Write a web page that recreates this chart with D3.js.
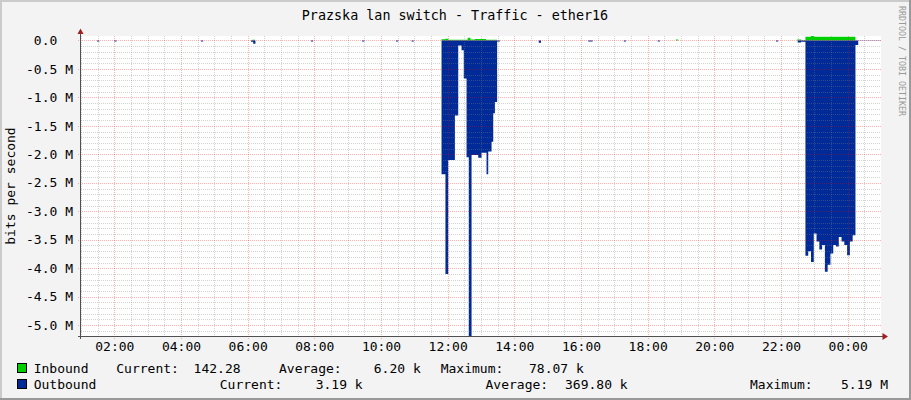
<!DOCTYPE html>
<html>
<head>
<meta charset="utf-8">
<script src="https://cdn.jsdelivr.net/npm/d3@7"></script>
<style>
  body { margin: 0; background: #f3f3f3; }
  svg text { font-family: "DejaVu Sans Mono", monospace; }
</style>
</head>
<body>
<svg id="chart" width="911" height="400"></svg>
<script>
'use strict';

var title = 'Prazska lan switch - Traffic - ether16';
var yAxisLabel = 'bits per second';
var watermark = 'RRDTOOL / TOBI OETIKER';

// graph covers 24 hours starting here
var startTime = '01:00';
var xTickHours = [2, 4, 6, 8, 10, 12, 14, 16, 18, 20, 22, 24];
var yTickValues = [0, -0.5, -1, -1.5, -2, -2.5, -3, -3.5, -4, -4.5, -5];

// values in Mbit/s, each one holds until the next time (5 min rrd steps)
var inTimes = ['06:08', '06:13', '11:49', '11:56', '12:01', '12:36', '12:41', '12:49', '13:09', '13:29',
  '18:51', '18:55', '22:29', '22:36', '22:44', '22:54', '22:59', '00:14'];
var inValues = [0.012, 0, 0.020, 0.030, 0.012, 0.047, 0.015, 0.025, 0.012, 0,
  0.015, 0, 0.015, 0.005, 0.065, 0.07807, 0.065, 0.00014];

var outTimes = ['01:29', '01:33', '02:00', '02:04', '04:36', '04:40',
  '06:06', '06:10', '06:14', '07:54', '07:58', '09:26', '09:30',
  '10:27', '10:31', '10:55', '10:59',
  '11:49', '11:56', '12:01', '12:13', '12:19', '12:25', '12:29', '12:34', '12:38', '12:43',
  '12:55', '13:01', '13:10', '13:13', '13:19', '13:22', '13:25', '13:29', '13:34',
  '14:44', '14:48', '16:13', '16:21', '17:17', '17:21', '18:18', '18:22', '21:51', '21:55',
  '22:30', '22:36',
  '22:44', '22:49', '22:54', '22:59', '23:04', '23:09', '23:14', '23:19', '23:24',
  '23:29', '23:34', '23:39', '23:44', '23:49', '23:54', '23:59', '00:04', '00:09',
  '00:14', '00:19'];
var outValues = [0.02, 0, 0.02, 0, 0.018, 0,
  0.025, 0.058, 0, 0.02, 0, 0.02, 0,
  0.02, 0, 0.02, 0,
  2.35, 4.10, 2.10, 1.32, 0.09, 0.17, 0.67, 2.05, 5.19, 2.01,
  2.06, 1.97, 2.35, 1.95, 1.78, 1.28, 1.08, 0.02, 0,
  0.040, 0, 0.02, 0, 0.02, 0, 0.02, 0, 0.02, 0,
  0.035, 0.022,
  3.78, 3.70, 3.89, 3.39, 3.53, 3.67, 3.59, 4.06, 3.94,
  3.74, 3.59, 3.62, 3.45, 3.53, 3.59, 3.77, 3.53, 3.42,
  0.08, 0.0032];

var seriesNames = ['Inbound', 'Outbound'];
var seriesColors = ['#00cf00', '#002a97'];
var statLabels = ['Current:', 'Average:', 'Maximum:'];
var inStats = ['142.28', '6.20 k', '78.07 k'];
var outStats = ['3.19 k', '369.80 k', '5.19 M'];

function toHours(s) {
  var p = s.split(':');
  return +p[0] + p[1] / 60;
}
var t0 = toHours(startTime);
function plotHours(s) {
  var h = toHours(s);
  return h < t0 ? h + 24 : h;
}
function steps(times, values) {
  var pts = [{t: t0, v: 0}];
  times.forEach(function(s, i) { pts.push({t: plotHours(s), v: values[i]}); });
  pts.push({t: t0 + 24, v: values[values.length - 1]});
  return pts;
}

var svg = d3.select('#chart');
var plotLeft = 81, plotTop = 36, plotW = 800, plotH = 300;
var plotBottom = plotTop + plotH;

// background + shaded border
svg.append('rect').attr('width', 911).attr('height', 400).attr('fill', '#f3f3f3');
svg.append('rect').attr('width', 911).attr('height', 2).attr('fill', '#cbcbcb');
svg.append('rect').attr('width', 2).attr('height', 400).attr('fill', '#cbcbcb');
svg.append('rect').attr('y', 398).attr('width', 911).attr('height', 2).attr('fill', '#999');
svg.append('rect').attr('x', 909).attr('width', 2).attr('height', 400).attr('fill', '#999');

svg.append('rect').attr('x', plotLeft).attr('y', plotTop).attr('width', plotW).attr('height', plotH)
  .attr('fill', '#fff');

var x = d3.scaleLinear().domain([t0, t0 + 24]).range([plotLeft, plotLeft + plotW]);
var y = d3.scaleLinear()
  .domain([-d3.max(outValues), d3.max(inValues)])
  .range([plotBottom, plotTop]);

svg.append('clipPath').attr('id', 'clip').append('rect')
  .attr('x', plotLeft).attr('y', plotTop).attr('width', plotW).attr('height', plotH);

function area(sign) {
  return d3.area()
    .x(function(d) { return x(d.t); })
    .y0(y(0))
    .y1(function(d) { return y(sign * d.v); })
    .curve(d3.curveStepAfter);
}
var marks = svg.append('g').attr('clip-path', 'url(#clip)');
marks.append('path').datum(steps(inTimes, inValues)).attr('d', area(1))
  .attr('fill', seriesColors[0]);
marks.append('path').datum(steps(outTimes, outValues)).attr('d', area(-1))
  .attr('fill', seriesColors[1]);

// grid on top of the data, like rrdtool
var grid = svg.append('g').attr('stroke-dasharray', '1,1').attr('shape-rendering', 'crispEdges');
var minorX = d3.range(Math.ceil(t0 * 2) / 2, t0 + 24, 0.5).filter(function(h) { return h % 2 !== 0; });
grid.selectAll('.mx').data(minorX).enter().append('line')
  .attr('x1', function(h) { return Math.round(x(h)) + 0.5; })
  .attr('x2', function(h) { return Math.round(x(h)) + 0.5; })
  .attr('y1', plotTop).attr('y2', plotBottom)
  .attr('stroke', '#808080').attr('stroke-opacity', 0.35);
var minorY = d3.range(0, y.domain()[0], -0.1).filter(function(v) {
  return Math.round(v * 10) % 5 !== 0;
});
grid.selectAll('.my').data(minorY).enter().append('line')
  .attr('x1', plotLeft).attr('x2', plotLeft + plotW)
  .attr('y1', function(v) { return Math.round(y(v)) + 0.5; })
  .attr('y2', function(v) { return Math.round(y(v)) + 0.5; })
  .attr('stroke', '#808080').attr('stroke-opacity', 0.35);
grid.selectAll('.Mx').data(xTickHours).enter().append('line')
  .attr('x1', function(h) { return Math.round(x(h)) + 0.5; })
  .attr('x2', function(h) { return Math.round(x(h)) + 0.5; })
  .attr('y1', plotTop).attr('y2', plotBottom + 3)
  .attr('stroke', '#ff0000').attr('stroke-opacity', 0.3);
grid.selectAll('.My').data(yTickValues).enter().append('line')
  .attr('x1', plotLeft - 3).attr('x2', plotLeft + plotW)
  .attr('y1', function(v) { return Math.round(y(v)) + 0.5; })
  .attr('y2', function(v) { return Math.round(y(v)) + 0.5; })
  .attr('stroke', '#ff0000').attr('stroke-opacity', 0.3);

// axis lines and arrows
svg.append('line').attr('x1', plotLeft - 0.5).attr('x2', plotLeft - 0.5).attr('y1', 31).attr('y2', plotBottom + 3)
  .attr('stroke', '#505050');
svg.append('line').attr('x1', plotLeft - 3).attr('x2', plotLeft + plotW + 2).attr('y1', plotBottom + 0.5)
  .attr('y2', plotBottom + 0.5).attr('stroke', '#505050');
svg.append('path').attr('d', 'M77.5,34 L83.5,34 L80.5,28.5 Z').attr('fill', '#a02020');
svg.append('path').attr('d', 'M882.5,333 L882.5,340 L888,336.5 Z').attr('fill', '#a02020');

// tick labels
var yAxis = svg.append('g').attr('transform', 'translate(' + plotLeft + ',0)')
  .call(d3.axisLeft(y).tickValues(yTickValues).tickSize(0).tickPadding(8)
    .tickFormat(function(v) { return v === 0 ? '0.0  ' : v.toFixed(1) + ' M'; }));
yAxis.select('.domain').remove();
yAxis.attr('font-family', 'DejaVu Sans Mono').attr('font-size', 13);
yAxis.selectAll('text').attr('fill', '#000').style('white-space', 'pre');

var xAxis = svg.append('g').attr('transform', 'translate(0,' + plotBottom + ')')
  .call(d3.axisBottom(x).tickValues(xTickHours).tickSize(0).tickPadding(6)
    .tickFormat(function(h) { return d3.format('02')(h % 24) + ':00'; }));
xAxis.select('.domain').remove();
xAxis.attr('font-family', 'DejaVu Sans Mono').attr('font-size', 13);
xAxis.selectAll('text').attr('fill', '#000');

// titles
svg.append('text').attr('x', 455).attr('y', 19.5).attr('text-anchor', 'middle')
  .attr('font-size', 13.4).text(title);
svg.append('text').attr('transform', 'translate(15,186) rotate(-90)').attr('text-anchor', 'middle')
  .attr('font-size', 13).text(yAxisLabel);
svg.append('text').attr('transform', 'translate(898.5,61) rotate(90)').attr('text-anchor', 'middle')
  .attr('font-size', 8.3).attr('fill', '#999').text(watermark);

// legend
var legendRows = [
  {base: 373, stats: inStats, xs: [116.3, 193.6, 279, 373.8, 440.7, 529]},
  {base: 389, stats: outStats, xs: [219.8, 315.7, 485.5, 565, 750, 841]}
];
legendRows.forEach(function(row, i) {
  var g = svg.append('g').attr('font-size', 13);
  g.append('rect').attr('x', 17.5).attr('y', row.base - 9.5).attr('width', 9).attr('height', 9)
    .attr('fill', seriesColors[i]).attr('stroke', '#000');
  g.append('text').attr('x', 33.7).attr('y', row.base).text(seriesNames[i]);
  statLabels.forEach(function(lab, j) {
    g.append('text').attr('x', row.xs[2 * j]).attr('y', row.base).text(lab);
    g.append('text').attr('x', row.xs[2 * j + 1]).attr('y', row.base).text(row.stats[j]);
  });
});
</script>
</body>
</html>
